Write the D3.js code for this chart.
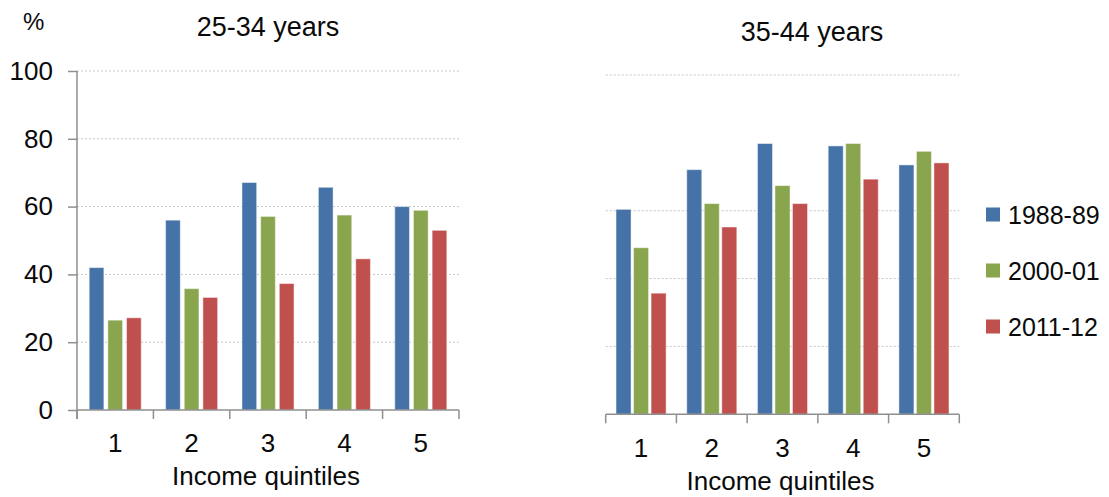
<!DOCTYPE html>
<html>
<head>
<meta charset="utf-8">
<script src="https://cdn.jsdelivr.net/npm/d3@7"></script>
<style>
  html, body { margin: 0; padding: 0; background: #fff; }
  svg { display: block; font-family: "Liberation Sans", Arial, sans-serif; }
</style>
</head>
<body>
<svg id="chart" width="1109" height="497"></svg>
<script>
// Home ownership rate by income quintile, two age groups
const quintiles = ["1", "2", "3", "4", "5"];
const periods = ["1988-89", "2000-01", "2011-12"];
const colors = ["#4572A7", "#89A54E", "#C0504D"];

// 25-34 years
const young1988 = [42.0, 56.0, 67.1, 65.7, 60.0];
const young2000 = [26.5, 35.8, 57.1, 57.5, 58.9];
const young2011 = [27.2, 33.2, 37.3, 44.6, 53.0];

// 35-44 years
const mid1988 = [60.4, 72.1, 79.8, 79.1, 73.5];
const mid2000 = [49.1, 62.1, 67.4, 79.8, 77.5];
const mid2011 = [35.7, 55.2, 62.1, 69.3, 74.1];

const yTicksLeft = [0, 20, 40, 60, 80, 100];
const gridRight = [20, 40, 60, 100];

const svg = d3.select("#chart");
const axisColor = "#8f8f8f";
const gridColor = "#c4c4c4";
const textColor = "#0a0a0a";

function panel(opts) {
  const { x0, x1, y0, y1, title, titleX, titleY, labelY, values, grid, showYAxis } = opts;
  const g = svg.append("g");
  const x = d3.scaleBand().domain(quintiles).range([x0, x1]);
  const xs = d3.scaleBand().domain(periods).range([0, x.bandwidth()])
    .paddingInner(opts.inner).paddingOuter(opts.outer);
  const y = d3.scaleLinear().domain([0, 100]).range([y0, y1]);

  // gridlines
  g.append("g").selectAll("line").data(grid.filter(d => d > 0)).join("line")
    .attr("x1", x0).attr("x2", x1)
    .attr("y1", d => y(d)).attr("y2", d => y(d))
    .attr("stroke", gridColor).attr("stroke-width", 1)
    .attr("stroke-dasharray", "2,2");

  // bars
  const rows = quintiles.map((q, i) => ({ q, vals: periods.map((p, k) => ({ p, k, v: values[k][i] })) }));
  g.append("g").selectAll("g").data(rows).join("g")
    .attr("transform", d => `translate(${x(d.q)},0)`)
    .selectAll("rect").data(d => d.vals).join("rect")
    .attr("x", d => xs(d.p))
    .attr("width", xs.bandwidth())
    .attr("y", d => y(d.v))
    .attr("height", d => y(0) - y(d.v))
    .attr("fill", d => colors[d.k])
    .attr("stroke", "rgba(255,255,255,0.45)")
    .attr("stroke-width", 1);

  // x axis with category labels centred in each band
  const xAxis = g.append("g").attr("transform", `translate(0,${y0})`)
    .call(d3.axisBottom(x).tickSize(0).tickPadding(opts.catPad));
  xAxis.select(".domain").attr("stroke", axisColor).attr("stroke-width", 1.5)
    .attr("d", `M${x0},0H${x1}`);
  xAxis.selectAll("text").attr("font-size", 26).attr("fill", textColor)
    .attr("font-family", "Liberation Sans, Arial, sans-serif");

  // boundary ticks between categories
  const edges = quintiles.map(q => x(q)).concat([x1]);
  g.append("g").selectAll("line").data(edges).join("line")
    .attr("x1", d => d).attr("x2", d => d)
    .attr("y1", y0).attr("y2", y0 + 9)
    .attr("stroke", axisColor).attr("stroke-width", 1.5);

  if (showYAxis) {
    const yAxis = g.append("g").attr("transform", `translate(${x0},0)`)
      .call(d3.axisLeft(y).tickValues(yTicksLeft).tickSize(9).tickPadding(15));
    yAxis.select(".domain").attr("stroke", axisColor).attr("stroke-width", 1.5)
      .attr("d", `M0,${y1}V${y0 + 9}`);
    yAxis.selectAll(".tick line").attr("stroke", axisColor).attr("stroke-width", 1.5);
    yAxis.selectAll("text").attr("font-size", 26).attr("fill", textColor)
      .attr("font-family", "Liberation Sans, Arial, sans-serif");
  }

  g.append("text").attr("x", titleX).attr("y", titleY)
    .attr("text-anchor", "middle").attr("font-size", 27).attr("fill", textColor)
    .text(title);

  g.append("text").attr("x", (x0 + x1) / 2 - 2).attr("y", labelY)
    .attr("text-anchor", "middle").attr("font-size", 26).attr("fill", textColor)
    .text("Income quintiles");
}

panel({
  x0: 77, x1: 459, y0: 410, y1: 71,
  inner: 0.214, outer: 0.653, catPad: 24,
  title: "25-34 years", titleX: 268, titleY: 36, labelY: 485,
  values: [young1988, young2000, young2011],
  grid: yTicksLeft, showYAxis: true
});

panel({
  x0: 605.7, x1: 959.3, y0: 414.3, y1: 75,
  inner: 0.143, outer: 0.59, catPad: 24,
  title: "35-44 years", titleX: 812, titleY: 41, labelY: 490,
  values: [mid1988, mid2000, mid2011],
  grid: gridRight, showYAxis: false
});

// unit label
svg.append("text").attr("x", 23).attr("y", 30)
  .attr("font-size", 24).attr("fill", textColor).text("%");

// legend
const legend = svg.append("g").selectAll("g").data(periods).join("g")
  .attr("transform", (d, i) => `translate(986,${214.5 + i * 56})`);
legend.append("rect").attr("x", 0).attr("y", -7).attr("width", 14).attr("height", 14)
  .attr("fill", (d, i) => colors[i]);
legend.append("text").attr("x", 22).attr("y", 9.5)
  .attr("font-size", 25).attr("fill", textColor).text(d => d);
</script>
</body>
</html>
